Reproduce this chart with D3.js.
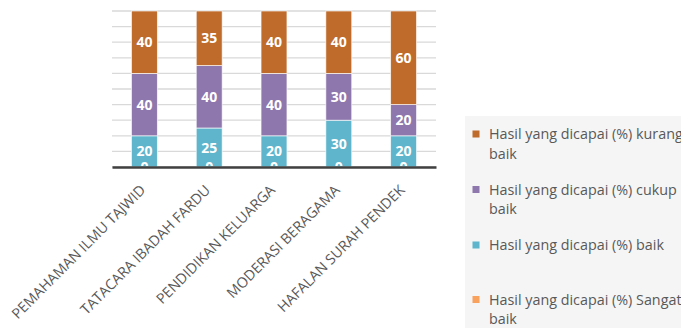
<!DOCTYPE html>
<html>
<head>
<meta charset="utf-8">
<script src="https://cdn.jsdelivr.net/npm/d3@7"></script>
<style>
  html, body { margin: 0; padding: 0; background: #fff; }
  svg { display: block; }
  text { font-family: "Open Sans", sans-serif; }
</style>
</head>
<body>
<script>
const categories = ["PEMAHAMAN ILMU TAJWID", "TATACARA IBADAH FARDU", "PENDIDIKAN KELUARGA", "MODERASI BERAGAMA", "HAFALAN SURAH PENDEK"];
const seriesNames = ["Hasil yang dicapai (%) Sangat baik", "Hasil yang dicapai (%) baik", "Hasil yang dicapai (%) cukup baik", "Hasil yang dicapai (%) kurang baik"];
const sangatBaik = [0, 0, 0, 0, 0];
const baik = [20, 25, 20, 30, 20];
const cukupBaik = [40, 40, 40, 30, 20];
const kurangBaik = [40, 35, 40, 40, 60];
const colors = ["#F9A25E", "#5FB5CC", "#8E77AD", "#BF6B2B"];
const yTicks = [0, 10, 20, 30, 40, 50, 60, 70, 80, 90, 100];

const W = 681, H = 328;
const M = { left: 112, right: 436, top: 11, bottom: 167 };
const svg = d3.select("body").append("svg").attr("width", W).attr("height", H);

// measure helper: font size such that a string reaches a target width
function fitSize(str, target, weight) {
  const t = svg.append("text").attr("font-size", "20px").attr("font-weight", weight || "normal").text(str);
  const w = t.node().getComputedTextLength();
  t.remove();
  return 20 * target / w;
}

const seriesValues = [sangatBaik, baik, cukupBaik, kurangBaik];
const rows = categories.map((c, i) => {
  const r = { cat: c };
  seriesNames.forEach((s, j) => r[s] = seriesValues[j][i]);
  return r;
});
const stacked = d3.stack().keys(seriesNames)(rows);

const x = d3.scaleBand().domain(categories).range([M.left, M.right]).paddingInner(0.6).paddingOuter(0.3);
const y = d3.scaleLinear().domain([0, 100]).range([M.bottom, M.top]);

// gridlines
svg.append("g").selectAll("line").data(yTicks).join("line")
  .attr("x1", M.left).attr("x2", M.right)
  .attr("y1", d => y(d)).attr("y2", d => y(d))
  .attr("stroke", "#D9D9D9").attr("stroke-width", 1.3);

svg.append("defs").append("clipPath").attr("id", "plotclip")
  .append("rect").attr("x", M.left).attr("y", 0).attr("width", M.right - M.left).attr("height", M.bottom - 1);

// bars
const g = svg.append("g");
stacked.forEach((layer, j) => {
  g.append("g").selectAll("rect").data(layer).join("rect")
    .attr("x", d => x(d.data.cat))
    .attr("width", x.bandwidth())
    .attr("y", d => y(d[1]))
    .attr("height", d => y(d[0]) - y(d[1]))
    .attr("fill", colors[j])
    .attr("stroke", "#fff").attr("stroke-width", 0.8).attr("stroke-opacity", 0.8);
});

// labels
const lg = svg.append("g").attr("clip-path", "url(#plotclip)");
stacked.forEach((layer, j) => {
  lg.append("g").selectAll("text").data(layer).join("text")
    .attr("x", d => x(d.data.cat) + x.bandwidth() / 2)
    .attr("y", d => y((d[0] + d[1]) / 2))
    .attr("dy", "0.36em")
    .attr("text-anchor", "middle")
    .attr("fill", "#fff")
    .attr("font-weight", "bold")
    .attr("font-size", "14px")
    .text(d => d[1] - d[0]);
});

// x axis
const catSize = fitSize(categories[0], 182);
const xAxis = d3.axisBottom(x).tickSize(0).tickPadding(0);
const ax = svg.append("g").attr("transform", `translate(0,${M.bottom})`).call(xAxis);
ax.select(".domain").attr("stroke", "#404040").attr("stroke-width", 2.5);
ax.selectAll(".tick text")
  .attr("font-family", "Open Sans, sans-serif")
  .attr("font-size", catSize + "px")
  .attr("fill", "#595959")
  .attr("text-anchor", "end")
  .attr("transform", "translate(2,24) rotate(-45)")
  .attr("dy", 0)
  .attr("y", 0);

// legend
const legSize = fitSize(seriesNames[1], 175);
const legX = 465, legY = 116;
svg.append("rect").attr("x", legX).attr("y", legY).attr("width", W - legX).attr("height", H - legY).attr("fill", "#F5F5F5");
const legendItems = [
  { name: seriesNames[3], color: colors[3], y: 134 },
  { name: seriesNames[2], color: colors[2], y: 189.5 },
  { name: seriesNames[1], color: colors[1], y: 245 },
  { name: seriesNames[0], color: colors[0], y: 299.5 }
];
const li = svg.append("g").selectAll("g").data(legendItems).join("g");
li.append("rect").attr("x", 472.5).attr("y", d => d.y - 3.5).attr("width", 7).attr("height", 7).attr("fill", d => d.color);
li.each(function(d) {
  const t = d3.select(this).append("text").attr("font-size", legSize + "px").attr("fill", "#595959");
  if (d.name.endsWith(" baik") && d.name !== seriesNames[1]) {
    const first = d.name.slice(0, d.name.length - 5);
    t.append("tspan").attr("x", 489).attr("y", d.y).attr("dy", "0.36em").text(first);
    t.append("tspan").attr("x", 489).attr("y", d.y + 19.5).attr("dy", "0.36em").text("baik");
  } else {
    t.append("tspan").attr("x", 489).attr("y", d.y).attr("dy", "0.36em").text(d.name);
  }
});
</script>
</body>
</html>
